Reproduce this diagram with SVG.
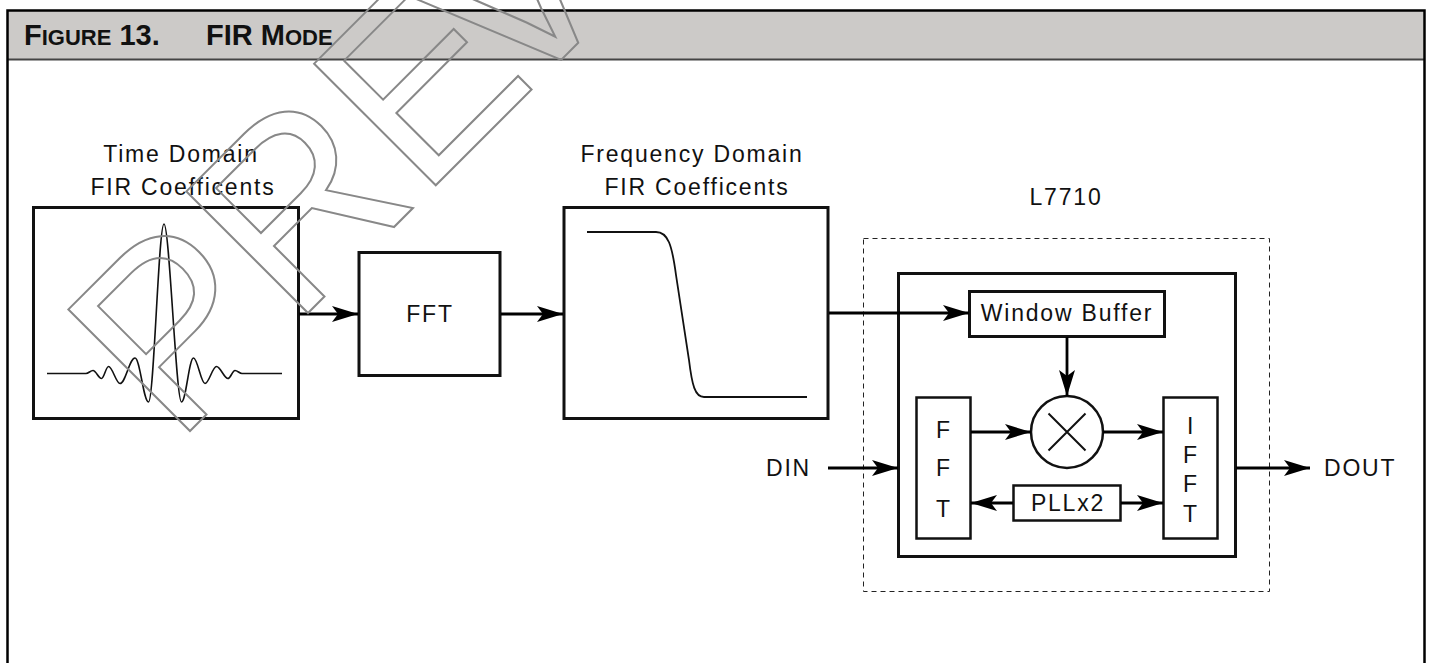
<svg xmlns="http://www.w3.org/2000/svg" width="1432" height="663" viewBox="0 0 1432 663">
<style>
.box{fill:#fff;stroke:#111;stroke-width:3}
.thin{fill:#fff;stroke:#111;stroke-width:2.5}
.lbl{font-family:"Liberation Sans",Arial,sans-serif;font-size:23px;letter-spacing:1.8px;fill:#111}
.mid{text-anchor:middle}
.wire{fill:none;stroke:#000;stroke-width:2.8}
.hdr{font-family:"Liberation Sans",Arial,sans-serif;font-weight:bold;fill:#111}
</style>
<defs>
<marker id="ah" markerUnits="userSpaceOnUse" markerWidth="28" markerHeight="18" refX="26" refY="8" orient="auto">
<path d="M0,0 L26,8 L0,16 L6,8 Z" fill="#000"/>
</marker>
</defs>
<rect width="1432" height="663" fill="#fff"/>
<g id="frame">
<rect x="7.5" y="10.5" width="1417" height="49" fill="#cccac8"/>
<line x1="7" y1="59.5" x2="1425" y2="59.5" stroke="#444" stroke-width="2"/>
<rect x="7.5" y="10.5" width="1417" height="680" fill="none" stroke="#000" stroke-width="2.5"/>
<text class="hdr" x="24" y="45"><tspan font-size="29">F</tspan><tspan font-size="22">IGURE</tspan><tspan font-size="29"> 13.</tspan></text>
<text class="hdr" x="206" y="45"><tspan font-size="29">FIR M</tspan><tspan font-size="22">ODE</tspan></text>
</g>
<g id="time-domain">
<text class="lbl mid" x="181" y="162">Time Domain</text>
<text class="lbl mid" x="183" y="195">FIR Coefficents</text>
<rect class="box" x="33.5" y="207.5" width="265" height="211"/>
<path fill="none" stroke="#111" stroke-width="1.6" d="M47,373.5 L86,373.5 C88.5,373.5 90.5,370.5 93,370.5 C96,370.5 98.5,378.5 101.5,378.5 C104,378.5 106,366.5 108.5,366.5 C112.5,366.5 116,383.5 120,383.5 C125.5,383.5 129.5,358 135,358 C140,358 143.5,402 148.5,402 C154,402 158.5,224 164,224 C169.5,224 176,402 181.5,402 C186,402 189,358 193.5,358 C197.5,358 201,383.5 205,383.5 C209,383.5 212.5,366.5 216.5,366.5 C220.5,366.5 224,378.5 228,378.5 C230.5,378.5 232.5,370.5 235,370.5 C237.5,370.5 239.5,373.5 242,373.5 L282,373.5"/>
</g>
<g id="fft">
<rect class="box" x="359" y="252.5" width="141" height="123"/>
<text class="lbl mid" x="430" y="322">FFT</text>
</g>
<g id="freq-domain">
<text class="lbl mid" x="692" y="162">Frequency Domain</text>
<text class="lbl mid" x="697" y="195">FIR Coefficents</text>
<rect class="box" x="564" y="207.5" width="264" height="211"/>
<path fill="none" stroke="#111" stroke-width="1.8" d="M587,232 H656 C668,232 672,245 676,275 L689,360 C692,385 695,397 704,397 H807"/>
</g>
<g id="l7710">
<text class="lbl mid" x="1066" y="205">L7710</text>
<rect x="863.5" y="238.5" width="406" height="353" fill="none" stroke="#222" stroke-width="1" stroke-dasharray="5,4"/>
</g>
<g id="core">
<rect class="box" x="898.5" y="273.5" width="337" height="283"/>
</g>
<g id="window-buffer">
<rect class="box" x="969.5" y="291.5" width="195" height="45"/>
<text class="lbl mid" x="1067" y="321">Window Buffer</text>
</g>
<g id="multiplier">
<circle cx="1067" cy="432" r="36" fill="#fff" stroke="#111" stroke-width="2.5"/>
<path d="M1048.5,413.5 L1085.5,450.5 M1085.5,413.5 L1048.5,450.5" stroke="#111" stroke-width="2"/>
</g>
<g id="fft-in">
<rect class="thin" x="916.5" y="397.5" width="54" height="141"/>
<text class="lbl mid" x="944" y="438" font-size="21">F</text>
<text class="lbl mid" x="944" y="476" font-size="21">F</text>
<text class="lbl mid" x="944" y="517" font-size="21">T</text>
</g>
<g id="ifft">
<rect class="thin" x="1163.5" y="397.5" width="54" height="141"/>
<text class="lbl mid" x="1191" y="434" font-size="21">I</text>
<text class="lbl mid" x="1191" y="463" font-size="21">F</text>
<text class="lbl mid" x="1191" y="492" font-size="21">F</text>
<text class="lbl mid" x="1191" y="522" font-size="21">T</text>
</g>
<g id="pll">
<rect class="thin" x="1013.5" y="485.5" width="107" height="35"/>
<text class="lbl mid" x="1068" y="511">PLLx2</text>
</g>
<g id="io">
<text class="lbl" x="766" y="476">DIN</text>
<text class="lbl" x="1324" y="476">DOUT</text>
</g>
<g id="connectors" class="wire">
<line x1="299" y1="314" x2="358" y2="314" marker-end="url(#ah)"/>
<line x1="501" y1="314" x2="563" y2="314" marker-end="url(#ah)"/>
<line x1="829" y1="313" x2="969" y2="313" marker-end="url(#ah)"/>
<line x1="1067" y1="337" x2="1067" y2="396" marker-end="url(#ah)"/>
<line x1="971" y1="432" x2="1031" y2="432" marker-end="url(#ah)"/>
<line x1="1103" y1="432" x2="1163" y2="432" marker-end="url(#ah)"/>
<line x1="1013" y1="503" x2="971" y2="503" marker-end="url(#ah)"/>
<line x1="1121" y1="503" x2="1163" y2="503" marker-end="url(#ah)"/>
<line x1="828" y1="468" x2="898" y2="468" marker-end="url(#ah)"/>
<line x1="1236" y1="468" x2="1310" y2="468" marker-end="url(#ah)"/>
</g>
<g id="watermark">
<text x="175.6" y="445.4" transform="rotate(-45 175.6 445.4)" font-family="Liberation Sans, Arial, sans-serif" font-size="250" fill="none" stroke="#888" stroke-width="2">PRE<tspan dx="-40">VIEW</tspan></text>
</g>
</svg>
